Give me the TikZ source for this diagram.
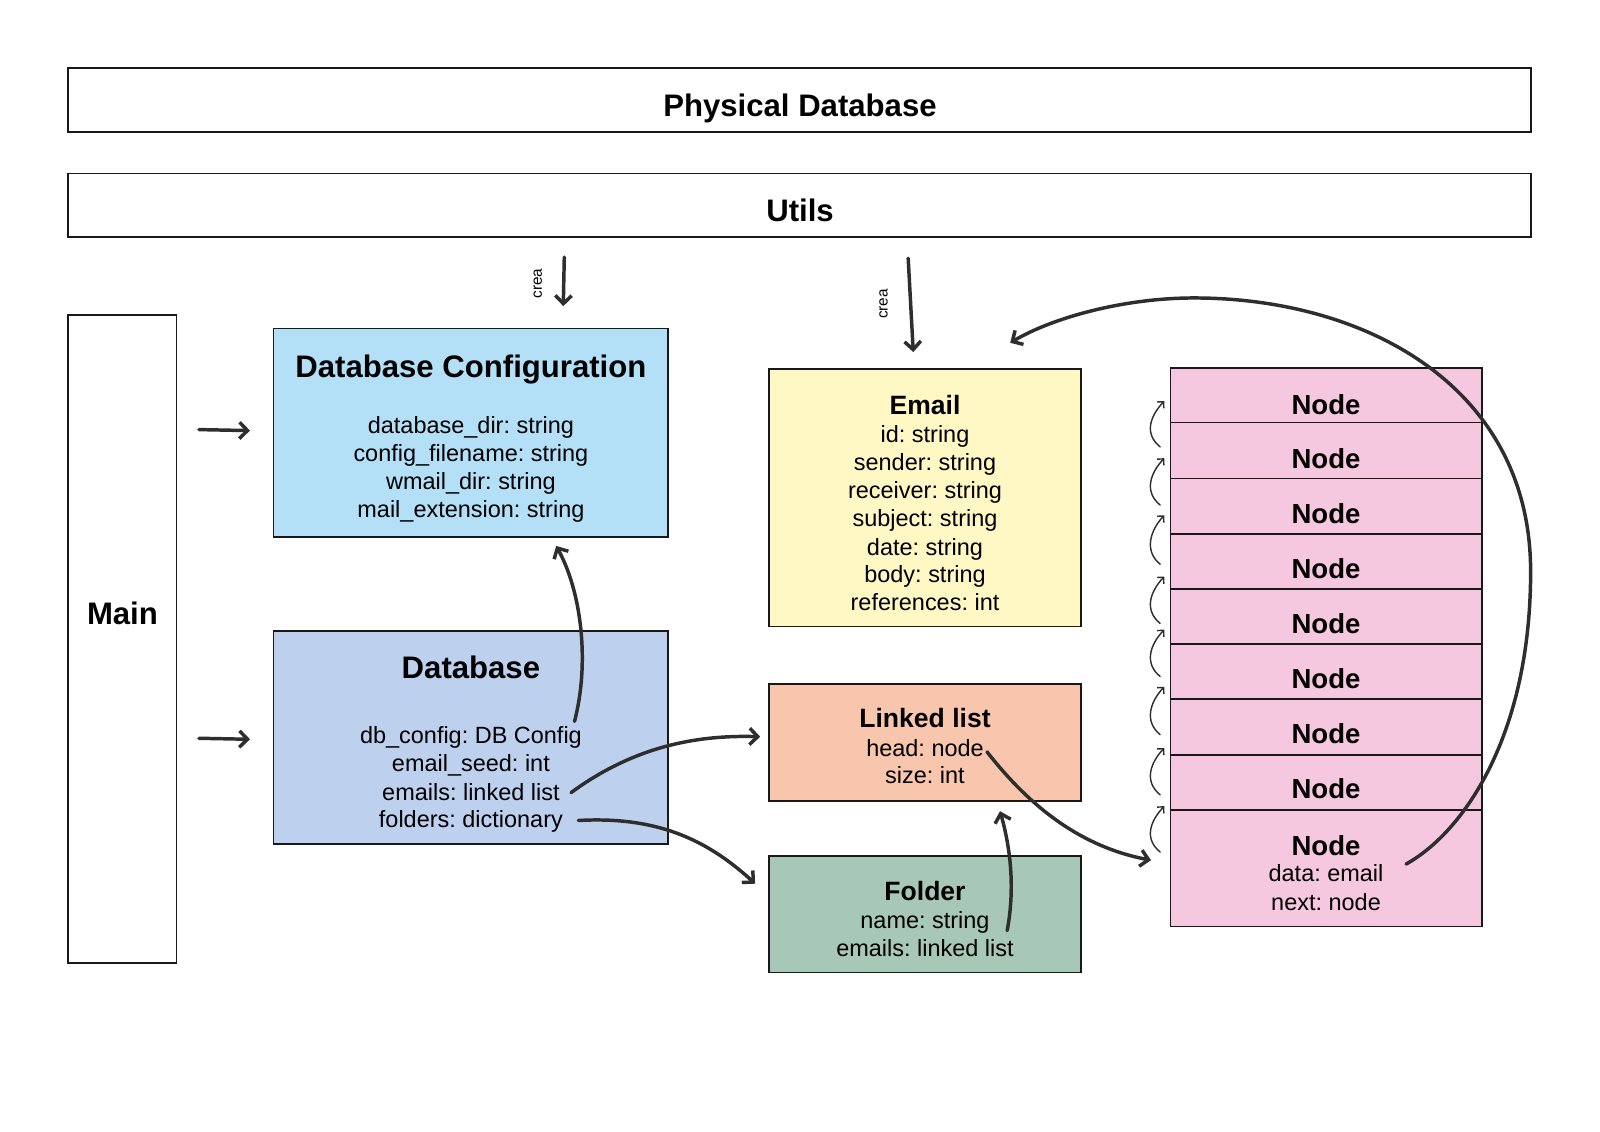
\documentclass[tikz,border=0pt]{standalone}
\usepackage{fontspec}
\setmainfont{Liberation Sans}
\usetikzlibrary{arrows.meta,calc}
\definecolor{cfgblue}{HTML}{B3E0F7}
\definecolor{dbblue}{HTML}{BDD0EE}
\definecolor{emailyellow}{HTML}{FFF8C4}
\definecolor{llorange}{HTML}{F7C6AC}
\definecolor{foldergreen}{HTML}{A8C8B7}
\definecolor{nodepink}{HTML}{F5C8E0}
\definecolor{inkgray}{HTML}{2E2E2E}
\frenchspacing
\begin{document}
\begin{tikzpicture}[x=1pt,y=-1pt,
  box/.style={draw=black!90, line width=1.8pt, inner sep=0pt, outer sep=0pt},
  ttl/.style={font=\fontsize{30.5}{36}\selectfont\bfseries, anchor=base, inner sep=0pt},
  sub/.style={font=\fontsize{26}{31}\selectfont\bfseries, anchor=base, inner sep=0pt},
  fld/.style={font=\fontsize{23}{28}\selectfont, anchor=base, inner sep=0pt},
  crealbl/.style={font=\fontsize{15}{18}\selectfont, rotate=90, inner sep=0pt},
  arr/.style={draw=inkgray, line width=3.4pt, line cap=round, line join=round,
    -{Straight Barb[length=8pt,width=16pt,line width=3.4pt]}},
  sarr/.style={draw=inkgray, line width=1.4pt, line cap=round,
    -{Straight Barb[length=4.5pt,width=9pt,line width=1.4pt]}}]
\useasboundingbox (0,0) rectangle (1568,1108.4);

% ---- top bars
\node[box, minimum width=1433pt, minimum height=62pt] (phys) at (783.5,98) {};
\node[ttl] (physT) at (784,114) {Physical Database};
\node[box, minimum width=1433pt, minimum height=62pt] (utils) at (783.5,201) {};
\node[ttl] (utilsT) at (784,217) {Utils};

% ---- main
\node[box, minimum width=106pt, minimum height=635pt] (main) at (120,626.5) {};
\node[ttl] (mainT) at (120,612) {Main};

% ---- database configuration
\node[box, fill=cfgblue, minimum width=387pt, minimum height=204pt] (cfg) at (461.5,424) {};
\node[ttl] (cfgT) at (461.5,370) {Database Configuration};
\node[fld] (cf1) at (461.5,425) {database\_dir: string};
\node[fld] (cf2) at (461.5,452) {config\_filename: string};
\node[fld] (cf3) at (461.5,480) {wmail\_dir: string};
\node[fld] (cf4) at (461.5,507) {mail\_extension: string};

% ---- database
\node[box, fill=dbblue, minimum width=387pt, minimum height=209pt] (db) at (461.5,722.5) {};
\node[ttl] (dbT) at (461.5,665) {Database};
\node[fld] (df1) at (461.5,729) {db\_config: DB Config};
\node[fld] (df2) at (461.5,756) {email\_seed: int};
\node[fld] (df3) at (461.5,784) {emails: linked list};
\node[fld] (df4) at (461.5,811) {folders: dictionary};

% ---- email
\node[box, fill=emailyellow, minimum width=305pt, minimum height=252pt] (email) at (906.5,488) {};
\node[sub] (emailT) at (906.5,406) {Email};
\node[fld] (ef1) at (906.5,434) {id: string};
\node[fld] (ef2) at (906.5,461) {sender: string};
\node[fld] (ef3) at (906.5,489) {receiver: string};
\node[fld] (ef4) at (906.5,516) {subject: string};
\node[fld] (ef5) at (906.5,544) {date: string};
\node[fld] (ef6) at (906.5,571) {body: string};
\node[fld] (ef7) at (906.5,598) {references: int};

% ---- linked list
\node[box, fill=llorange, minimum width=305pt, minimum height=115pt] (ll) at (906.5,727.5) {};
\node[sub] (llT) at (906.5,713) {Linked list};
\node[fld] (lf1) at (906.5,741) {head: node};
\node[fld] (lf2) at (906.5,768) {size: int};

% ---- folder
\node[box, fill=foldergreen, minimum width=305pt, minimum height=114pt] (folder) at (906.5,896) {};
\node[sub] (folderT) at (906.5,882) {Folder};
\node[fld] (ff1) at (906.5,910) {name: string};
\node[fld] (ff2) at (906.5,937) {emails: linked list};

% ---- nodes
\foreach \k/\c/\h/\b in {1/387.5/53/406, 2/441.5/55/459, 3/496/54/513, 4/550/54/567,
  5/604/54/621, 6/658/54/675, 7/712.5/55/729, 8/767/54/783} {
  \node[box, fill=nodepink, minimum width=305pt, minimum height=\h pt] (n\k) at (1299.5,\c) {};
  \node[sub, font=\fontsize{27}{32}\selectfont\bfseries] (nT\k) at (1299.5,\b) {Node};
}
\node[box, fill=nodepink, minimum width=305pt, minimum height=114pt] (n9) at (1299.5,851) {};
\node[sub, font=\fontsize{27}{32}\selectfont\bfseries] (nT9) at (1299.5,838) {Node};
\node[fld] (nf1) at (1299.5,864) {data: email};
\node[fld] (nf2) at (1299.5,892) {next: node};

% ---- crea labels
\node[crealbl] (crea1) at (527,278) {crea};
\node[crealbl] (crea2) at (866,298) {crea};

% ---- connectors
\draw[arr] ([xshift=22pt,yshift=3pt]main.east |- cfg.west) -- ([xshift=-23pt,yshift=2pt]cfg.west);
\draw[arr] ([xshift=22pt,yshift=-1pt]main.east |- db.west) -- ([xshift=-23pt,yshift=-2pt]db.west);
\draw[arr] ($(utils.south west)+(486,20)$) -- ($(cfg.north west)+(284,-22)$);
\draw[arr] ($(utils.south west)+(823,21)$) -- ($(email.north west)+(141,-17)$);
\draw[arr] ($(db.north west)+(295,89)$) .. controls +(15,-57) and +(25,45) .. ($(cfg.south west)+(277,9)$);
\draw[arr] ($(df3.east)+(11,1)$) .. controls +(60,-44) and +(-65,-2) .. ($(ll.west)+(-9,-5.5)$);
\draw[arr] ($(df4.east)+(15,-1)$) .. controls +(73,-4) and +(-50,-46) .. ($(folder.west)+(-14,-30)$);
\draw[arr] ($(folder.north west)+(233,73)$) .. controls +(8,-42) and +(10,35) .. ($(ll.south west)+(226,10)$);
\draw[arr] ($(lf1.east)+(3,4)$) .. controls +(43,55) and +(-68,-13) .. ($(n9.west)+(-19,-8)$);
\draw[arr] ($(nf1.east)+(22,-9)$) .. controls (1435,815) and (1500,720) .. (1500,560)
   .. controls (1500,380) and (1340,292) .. (1170,292)
   .. controls (1100,292) and (1030,312) .. ($(email.north west)+(236,-26)$);

% ---- small node-to-node arrows
\foreach \k/\dt/\dd in {1/-21/24, 2/-20/26, 3/-18/30, 4/-12/34, 5/-14/32, 6/-12/35, 7/-7/39, 8/-4/41} {
  \draw[sarr] ($(n\k.south west)+(-10,\dd)$) .. controls +(-16,-13) and +(-14,15) .. ($(n\k.south west)+(-6,\dt)$);
}
\end{tikzpicture}
\end{document}
